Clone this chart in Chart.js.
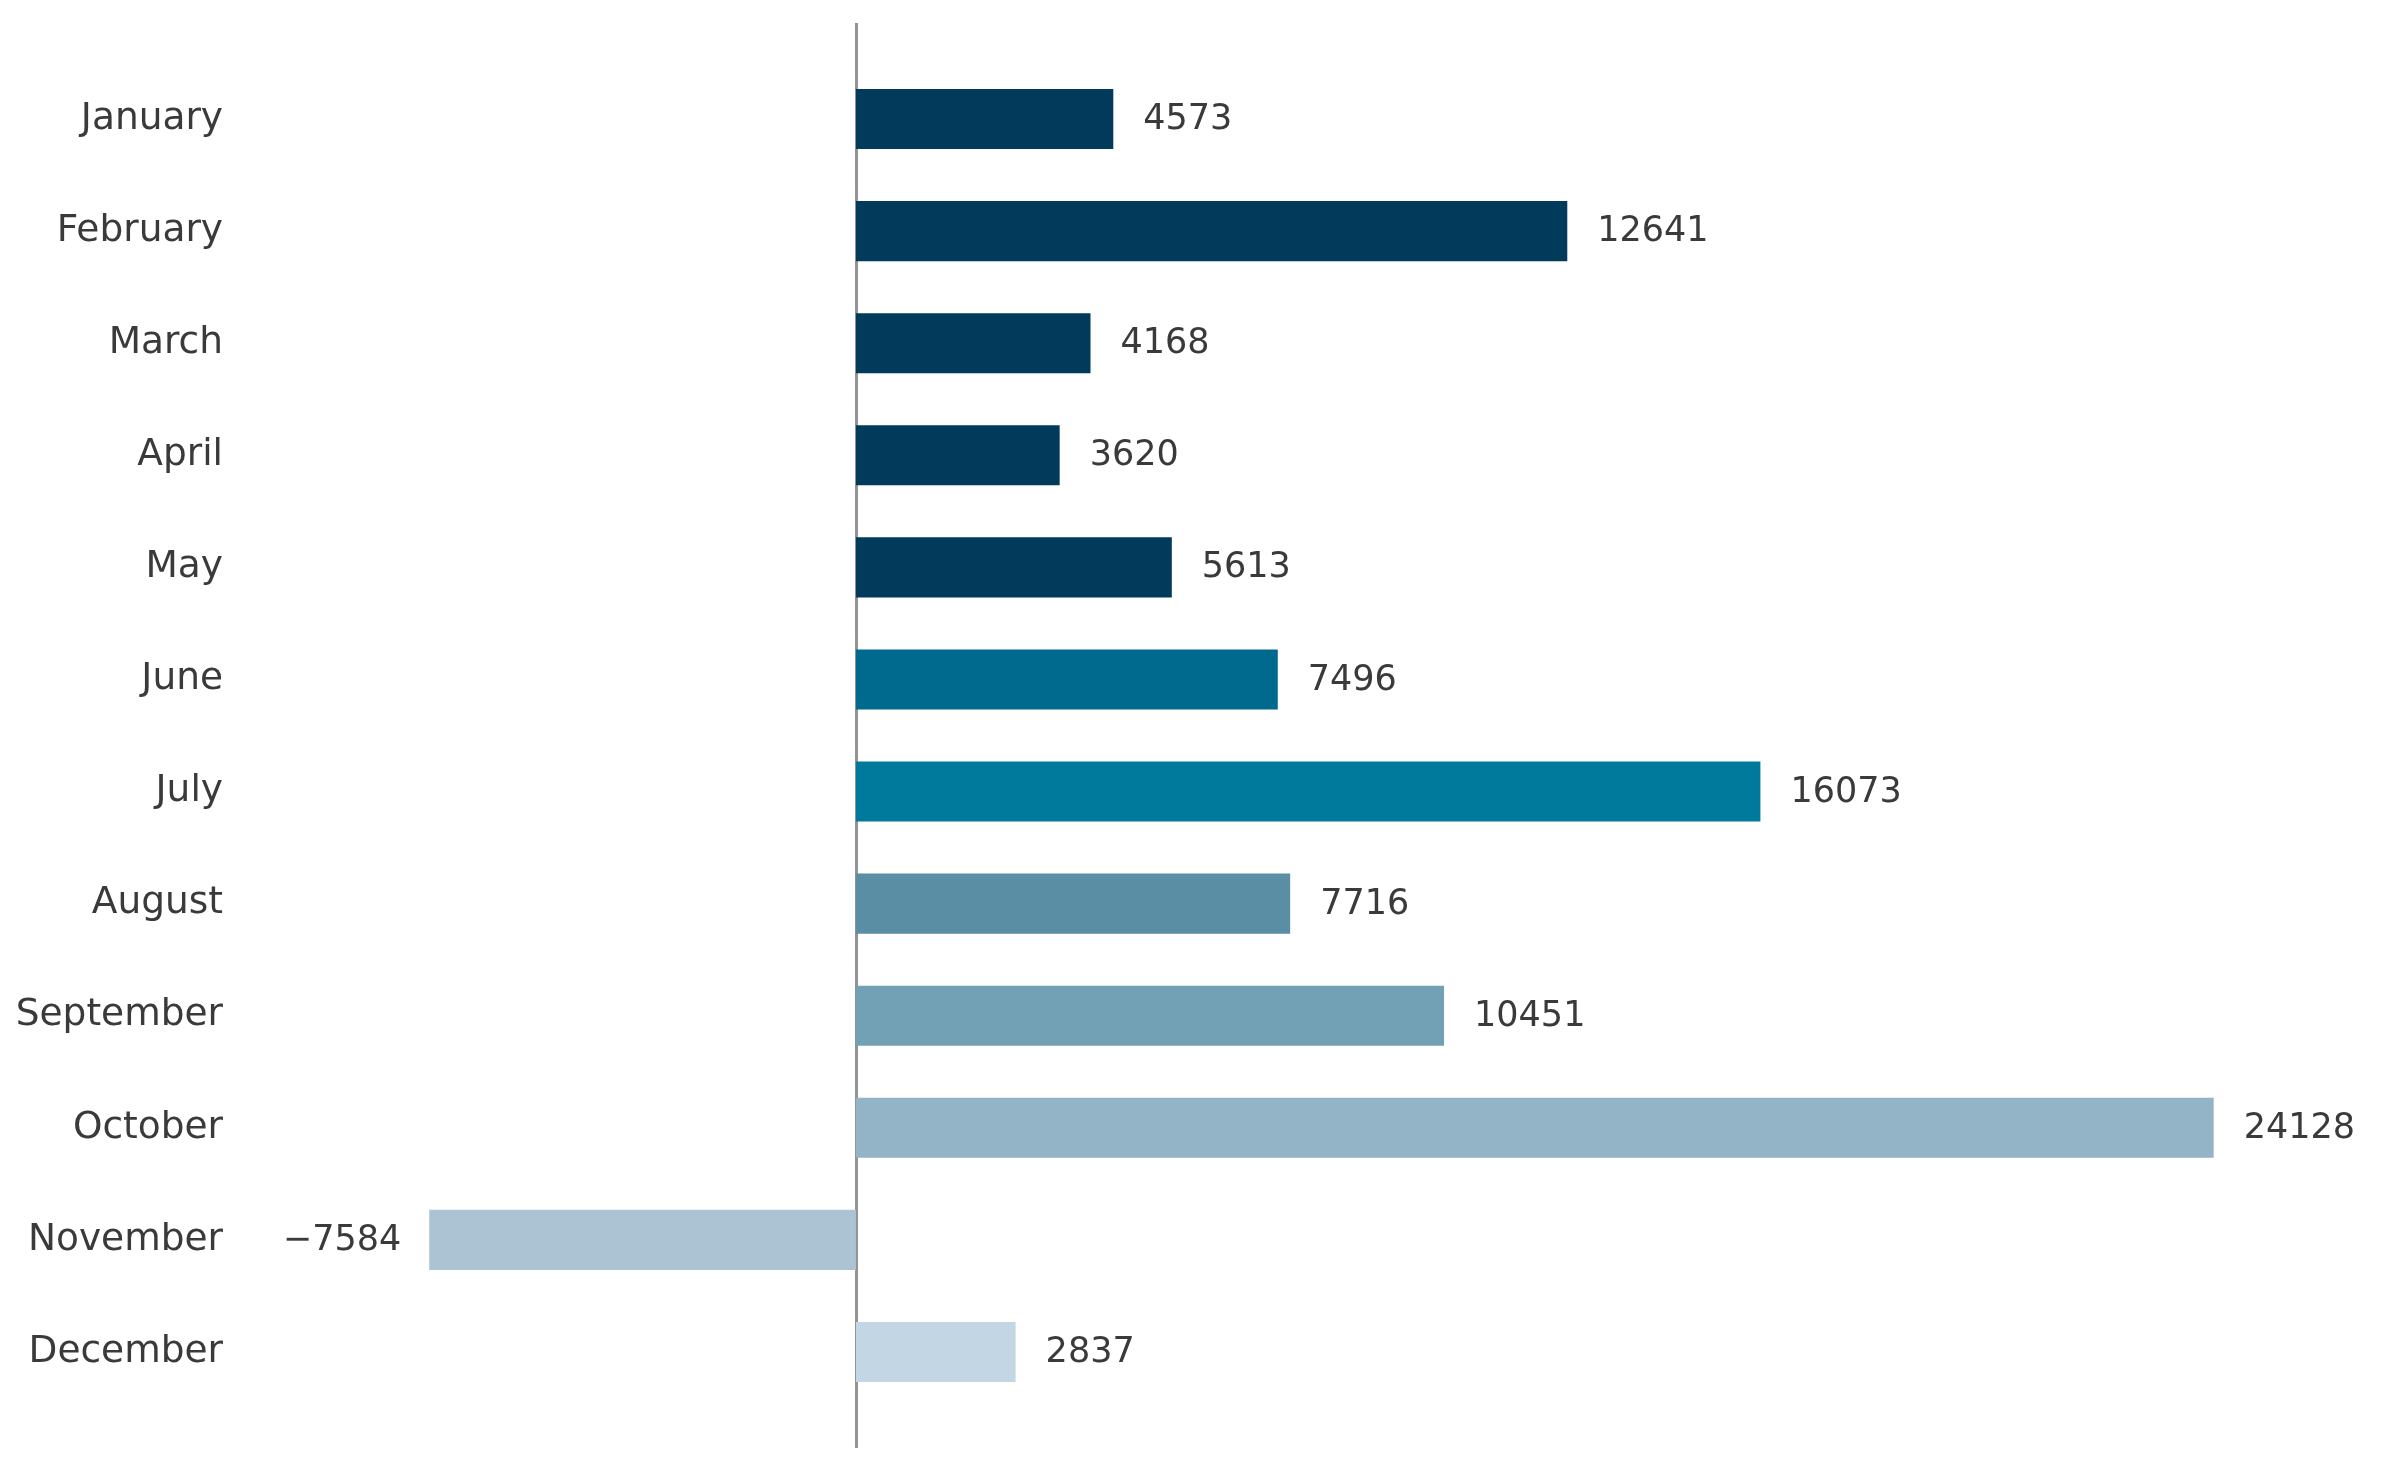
<!DOCTYPE html>
<html>
<head>
<meta charset="utf-8">
<script src="https://cdn.jsdelivr.net/npm/chart.js@4/dist/chart.umd.min.js"></script>
<style>
  html, body { margin: 0; padding: 0; background: #fff; }
  #wrap { width: 2382px; height: 1475px; }
</style>
</head>
<body>
<div id="wrap"><canvas id="myChart" width="2382" height="1475"></canvas></div>
<script>
var months = ["January", "February", "March", "April", "May", "June", "July", "August", "September", "October", "November", "December"];
var values = [4573, 12641, 4168, 3620, 5613, 7496, 16073, 7716, 10451, 24128, -7584, 2837];
var barColors = ["#023a5b", "#023a5b", "#023a5b", "#023a5b", "#023a5b", "#006a8e", "#007a9c", "#5a8ea4", "#72a1b5", "#93b3c6", "#abc3d3", "#c3d6e3"];

var textColor = "#3a3a3a";
var fontFamily = "'DejaVu Sans', sans-serif";

// zero line, drawn a bit past the bars like matplotlib's axes margins
var zeroLine = {
    id: 'zeroLine',
    beforeDatasetsDraw: function(chart) {
        var ctx = chart.ctx;
        var x = Math.round(chart.scales.x.getPixelForValue(0)) + 0.5;
        ctx.save();
        ctx.strokeStyle = "#939393";
        ctx.lineWidth = 3;
        ctx.beginPath();
        ctx.moveTo(x, chart.chartArea.top - 40);
        ctx.lineTo(x, chart.chartArea.bottom + 40);
        ctx.stroke();
        ctx.restore();
    }
};

var valueLabels = {
    id: 'valueLabels',
    afterDatasetsDraw: function(chart) {
        var ctx = chart.ctx;
        var meta = chart.getDatasetMeta(0);
        ctx.save();
        ctx.font = "35px " + fontFamily;
        ctx.fillStyle = textColor;
        ctx.textBaseline = "middle";
        meta.data.forEach(function(bar, i) {
            var v = values[i];
            if (v >= 0) {
                ctx.textAlign = "left";
                ctx.fillText(String(v), bar.x + 30, bar.y + 1);
            } else {
                ctx.textAlign = "right";
                ctx.fillText("\u2212" + Math.abs(v), bar.x - 28, bar.y + 1);
            }
        });
        ctx.restore();
    }
};

var ctx = document.getElementById("myChart").getContext('2d');

var myChart = new Chart(ctx, {
    type: 'bar',
    data: {
        labels: months,
        datasets: [{
            data: values,
            backgroundColor: barColors,
            borderWidth: 0,
            barPercentage: 0.536,
            categoryPercentage: 1
        }]
    },
    options: {
        indexAxis: 'y',
        responsive: false,
        animation: false,
        devicePixelRatio: 1,
        layout: { padding: { top: 63, bottom: 67, left: 0, right: 63 } },
        plugins: {
            legend: { display: false },
            tooltip: { enabled: false }
        },
        scales: {
            x: {
                display: false,
                min: -11000,
                max: 26000
            },
            y: {
                border: { display: false },
                grid: { display: false, drawTicks: false },
                ticks: {
                    padding: 14,
                    color: textColor,
                    font: { family: fontFamily, size: 37.5 }
                },
                afterFit: function(scale) { scale.width = 237; }
            }
        }
    },
    plugins: [zeroLine, valueLabels]
});
</script>
</body>
</html>
